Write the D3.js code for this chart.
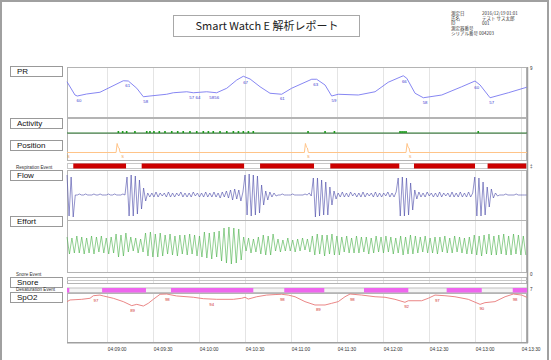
<!DOCTYPE html>
<html><head><meta charset="utf-8">
<script src="https://cdn.jsdelivr.net/npm/d3@7"></script>
<style>body{margin:0;background:#fff}svg{display:block}text{font-family:"Liberation Sans",Arial,sans-serif}</style>
</head><body>
<svg id="c" width="551" height="360"></svg>
<script>
// ---------------- DATA ----------------
const startTime = new Date(2016, 11, 19, 4, 8, 34);
const durationSec = 300;
const tickLabels = ["04:09:00","04:09:30","04:10:00","04:10:30","04:11:00","04:11:30","04:12:00","04:12:30","04:13:00","04:13:30"];
const titleText = "Smart Watch E 解析レポート";
const infoKeys = ["測定日","氏名","ID","測定器番号","シリアル番号"];
const infoValues = ["2016/12/19 01:01","テスト サス太郎","001","","004203"];
const panelNames = ["PR","Activity","Position","Flow","Effort","Snore","SpO2"];

// PR (bpm): [seconds from start, value]
const prSeries = [[0,65.1],[5.2,59.8],[6.7,59.4],[12.8,60.2],[21.5,60.9],[36.7,65.5],[40,65.4],[45.5,62.5],[49.8,59.1],[54.1,59.4],[65,60.1],[69.3,60.7],[78.1,61.1],[82.4,60.7],[91.1,61.1],[97.6,60.7],[104.2,62.5],[110.7,65.8],[115,67.3],[119.4,66.2],[125.9,63.1],[132.4,60.5],[140,60.1],[146.5,62.5],[159.6,66.1],[162.8,66.1],[168.3,63.8],[172.6,59.4],[176.9,60.1],[190,59.8],[200.9,61.1],[209.5,64.9],[219.3,67.5],[221.6,66.5],[227,60.5],[232.4,58.7],[244.4,59.8],[257.4,63.1],[266.1,65.4],[269.4,63.8],[275.9,58.7],[287.8,60.7],[299.8,62.9]];
const prMarkTimes = [7.8,39.6,51.3,81.3,85.4,94.4,97.6,116.5,140.4,162.2,174.1,220,233.5,267.2,277];
const prMarkTexts = ["60","61","58","57","64","58","56","67","61","63","59","66","58","60","57"];

// Activity marks: seconds, magnitude
const activityTimes = [33.5,36.3,38.9,44.3,52,54.1,56.7,60.2,63.9,68.3,72.2,75.8,80.2,84.6,88.9,92.2,95.4,99.8,104.2,108.5,111.8,115,118.3,121.5,157.2,168.3,174.4,217.2,218.5,219.8,221.1,268.2];
const activityValues = [1,1,1,1,1,1,1,1,1,1,1,1,1,1,1,1,1,1,1,1,1,1,1,1,1,1,1,1,1,1,1,1];

// Position: [seconds, value]
const positionSeries = [[0,0],[32.0,0],[32.7,6],[33.4,3.5],[34.0,3],[34.6,0],[154.8,0],[155.5,6],[156.2,3.5],[156.8,3],[157.4,0],[221.1,0],[221.8,6],[222.5,3.5],[223.1,3],[223.7,0],[300,0]];
const positionMarkTimes = [0.8,36.3,157.4,223.7];
const positionMarkTexts = ["S","S","S","S"];

// Respiration events (apnea) start/end seconds
const respEventStart = [4.1,48.7,125.9,171.7,226.3,274.3];
const respEventEnd   = [38.5,115.5,161.1,216.7,266.1,299.5];

// Flow, sampled every 1.35 s
const flowStep = 1.35;
const flowValues = [20,-21,18,-22,0,
0,1,0,0,1,0,0,0,1,0,0,1,0,0,0,1,0,0,1,0,0,0,1,0,
18,-21,20,-21,19,-19,15,-14,7,-6,2,
-2,2,-2,3,-2,2,-1,2,-2,3,-2,2,-2,2,-1,3,-2,2,-2,2,-2,3,-1,2,-2,2,-2,3,-2,2,-2,3,-2,2,-3,3,-2,
4,-3,5,-5,6,-4,5,-6,3,
20,-20,21,-21,20,-20,19,-18,10,-10,4,-5,3,-2,2,-1,
0,0,1,0,0,0,0,1,0,0,0,0,0,1,0,2,-1,
17,-22,17,-21,15,-20,13,-20,8,-10,4,-4,
2,-2,3,-2,2,-2,3,-1,2,-2,2,-2,3,-2,2,-1,2,-2,3,-2,2,-2,2,-1,3,-2,2,-2,3,
17,-21,18,-21,17,-20,12,-15,5,-4,
3,-2,2,-2,3,-1,2,-2,2,-2,3,-2,2,-1,2,-2,3,-2,2,-2,3,-2,2,-2,3,-2,2,
18,-21,17,-21,13,-20,8,-12,6,-3,2,-1,
0,0,0,1,0,0,0,0,1,0,0,0,0,0];

// Effort, sampled every 1.6 s
const effortStep = 1.6;
const effortValues = [8,-9,7,-8,9,-8,8,-9,7,-8,9,-9,8,-7,9,-8,7,-9,8,-8,
11,-12,10,-11,12,
-7,8,-6,7,-8,6,-7,
12,-11,13,-12,11,-12,12,-11,
10,-9,11,-10,9,-11,10,-9,10,-10,11,-9,10,-11,9,
-12,13,-13,12,-14,13,-12,14,
-16,17,-18,18,-19,17,-18,16,-15,
8,-6,7,-8,6,-7,8,
-9,10,-10,9,-10,11,
-6,6,-7,5,-6,7,-6,5,-7,6,-6,7,-5,6,-7,
9,-10,11,-9,10,-11,10,-9,11,-10,9,-10,
8,-7,9,-8,7,-8,9,-8,8,-7,8,-9,7,-8,9,-7,8,-8,9,-7,8,-9,7,-8,
9,-10,8,-9,10,-9,9,-8,
8,-7,9,-8,7,-8,8,-9,8,-7,9,-8,7,-8,9,-7,8,-8,7,-9,8,
-9,10,-10,9,-11,10,-9,11,-10,9,-10,10,-9,11,-10,9,-10,11,-9,10,-10,9,-10];

// Desaturation events
const desatStart = [0,22.9,67.8,141.7,193.7,247.6,290.7];
const desatEnd   = [1.5,51.5,121.5,167.8,222.6,270.5,300];

// SpO2 (%)
const spo2Series = [[0,92.3],[2,93.6],[9.6,94.1],[15,94.9],[17.2,96.9],[21.5,97.4],[23.7,96.7],[30.2,94.9],[36.7,92.3],[42.2,89.2],[45.5,90.2],[49.8,88.9],[53,91],[56.3,94.1],[60.7,98],[65,98.2],[71.5,96.7],[82.4,95.7],[88.9,94.6],[97.6,94.1],[108.5,94.1],[113.9,94.9],[116.1,95.7],[118.2,94.3],[123.7,96.1],[130.2,97.4],[135.7,97.8],[140,98],[144.3,97.4],[148.7,96.1],[155.2,92.3],[161.7,89.7],[168.3,89.7],[172.6,91],[176.9,92.3],[181.3,96.1],[184.6,98.2],[192.2,97.4],[200.9,96.1],[207.4,95.7],[213.9,94.1],[220.4,91.8],[222.6,93],[231.3,93],[235.6,94.9],[240,97.4],[246.5,96.9],[253,96.1],[261.7,94.1],[269.4,90.2],[272.6,91.5],[279.1,92.3],[285.7,96.1],[291.1,98.2],[296.6,97.4],[299.8,95.7]];
const spo2MarkTimes = [18.9,42.8,65.4,94.4,140.4,163.9,186.1,221.5,241.5,270.5,292.2];
const spo2MarkTexts = ["97","89","98","94","98","89","98","92","97","90","98"];

// ---------------- DRAW ----------------
const svg = d3.select("#c");
const T = s => new Date(startTime.getTime() + s * 1000);
const x = d3.scaleTime().domain([T(0), T(durationSec)]).range([67, 527]);
const parseT = d3.timeParse("%H:%M:%S");
const tickDates = tickLabels.map(s => { const p = parseT(s); return new Date(2016, 11, 19, p.getHours(), p.getMinutes(), p.getSeconds()); });

// page frame
svg.append("rect").attr("x",1).attr("y",1).attr("width",547).attr("height",400)
  .attr("fill","none").attr("stroke","#a0a0a0").attr("stroke-width",2);

// title
svg.append("rect").attr("x",173.5).attr("y",15.5).attr("width",186).attr("height",21)
  .attr("fill","#fff").attr("stroke","#a8a8a8");
svg.append("text").attr("x",267).attr("y",29.5).attr("text-anchor","middle")
  .attr("font-size",11).style("font-family","'Noto Sans CJK JP','Liberation Sans',sans-serif").attr("fill","#222").text(titleText);

// info
const infoFont = "'Noto Sans CJK JP',sans-serif";
infoKeys.forEach((k,i)=>{
  svg.append("text").attr("x",451).attr("y",14.5+i*5).attr("font-size",4.5)
    .style("font-family",infoFont).attr("fill","#333")
    .text(k + (i===4 ? " " + infoValues[i] : ""));
  if (i!==4 && infoValues[i]) svg.append("text").attr("x",482).attr("y",14.5+i*5).attr("font-size",4.5)
    .style("font-family",infoFont).attr("fill","#333").text(infoValues[i]);
});

// panels layout
const panels = {
  PR:[67,117], Activity:[118,133], Position:[133,160], Flow:[170,220], Effort:[220,272], Snore:[277,283], SpO2:[293,342]
};
const labelBoxY = {PR:66, Activity:118, Position:140, Flow:170, Effort:216, Snore:277, SpO2:292};

// gridlines
const gridG = svg.append("g");
Object.values(panels).forEach(([y0,y1])=>{
  gridG.selectAll(null).data(tickDates).join("line")
    .attr("x1",d=>Math.round(x(d))+0.5).attr("x2",d=>Math.round(x(d))+0.5)
    .attr("y1",y0).attr("y2",y1).attr("stroke","#e4e4e4");
});
// panel borders
Object.entries(panels).forEach(([n,[y0,y1]])=>{
  svg.append("rect").attr("x",67.5).attr("y",y0+0.5).attr("width",459).attr("height",y1-y0)
    .attr("fill","none").attr("stroke","#b4b4b4");
});
// shadow right/bottom of plot
svg.append("line").attr("x1",527.5).attr("x2",527.5).attr("y1",67).attr("y2",343).attr("stroke","#a0a0a0").attr("stroke-width",1.5);
svg.append("line").attr("x1",67).attr("x2",528).attr("y1",342.8).attr("y2",342.8).attr("stroke","#a0a0a0").attr("stroke-width",1.5);

// label boxes
panelNames.forEach(n=>{
  const y0 = labelBoxY[n];
  svg.append("rect").attr("x",10.5).attr("y",y0+0.5).attr("width",52).attr("height",10)
    .attr("fill","#fff").attr("stroke","#999");
  svg.append("text").attr("x",17).attr("y",y0+8.3).attr("font-size",8).attr("fill","#111").text(n);
});
// small event labels
[["Respiration Event",168.5],["Snore Event",276],["Desaturation Event",291]].forEach(([t,y])=>{
  svg.append("text").attr("x",16).attr("y",y).attr("font-size",4.6).attr("fill","#333").text(t);
});
// right side tiny markers
[["9",70],["‡",168],["0",275.5],["7",291]].forEach(([t,y])=>{
  svg.append("text").attr("x",530).attr("y",y).attr("font-size",4.5).attr("fill","#333").text(t);
});

// PR
const yPR = d3.scaleLinear().domain([51,71]).range([117,67]);
svg.append("path").datum(prSeries).attr("fill","none").attr("stroke","#7878f0").attr("stroke-width",0.9)
  .attr("d", d3.line().x(d=>x(T(d[0]))).y(d=>yPR(d[1])));
const interp = (series,t)=>{ const i = d3.bisector(d=>d[0]).right(series,t); const a=series[Math.max(0,i-1)], b=series[Math.min(series.length-1,i)]; if(a===b) return a[1]; return a[1]+(b[1]-a[1])*(t-a[0])/(b[0]-a[0]); };
svg.selectAll(null).data(prMarkTimes).join("text")
  .attr("x",d=>x(T(d))).attr("y",d=>yPR(interp(prSeries,d))+6.5).attr("text-anchor","middle")
  .attr("font-size",4.3).attr("fill","#3a3ad0").text((d,i)=>prMarkTexts[i]);

// Activity
const yAct = d3.scaleLinear().domain([0,10]).range([133,118]);
svg.append("line").attr("x1",67).attr("x2",527).attr("y1",yAct(0)).attr("y2",yAct(0)).attr("stroke","#2e7d32").attr("stroke-width",1);
svg.selectAll(null).data(activityTimes).join("rect")
  .attr("x",d=>x(T(d))-0.8).attr("width",1.6)
  .attr("y",(d,i)=>yAct(activityValues[i])-0.5).attr("height",(d,i)=>yAct(0)-yAct(activityValues[i])+0.5)
  .attr("fill","#1a9a1a");

// Position
const yPos = d3.scaleLinear().domain([-5,13]).range([160,133]);
svg.append("path").datum(positionSeries).attr("fill","none").attr("stroke","#ffc488").attr("stroke-width",1)
  .attr("d", d3.line().x(d=>x(T(d[0]))).y(d=>yPos(d[1])));
svg.selectAll(null).data(positionMarkTimes).join("text")
  .attr("x",d=>x(T(d))).attr("y",yPos(0)+5.5).attr("text-anchor","middle")
  .attr("font-size",4).attr("fill","#f0a050").text((d,i)=>positionMarkTexts[i]);

// Respiration events
const respY0 = 163.5, respH = 5;
svg.append("rect").attr("x",67.5).attr("y",respY0).attr("width",459).attr("height",respH).attr("fill","#fff").attr("stroke","#c8c8c8");
svg.selectAll(null).data(respEventStart).join("rect")
  .attr("x",d=>x(T(d))).attr("width",(d,i)=>x(T(respEventEnd[i]))-x(T(d)))
  .attr("y",respY0).attr("height",respH).attr("fill","#cc0000");

// Flow
const yFlow = d3.scaleLinear().domain([-25,25]).range([220,170]);
svg.append("path").datum(flowValues).attr("fill","none").attr("stroke","#4848a8").attr("stroke-width",0.6)
  .attr("d", d3.line().x((d,i)=>x(T(i*flowStep))).y(d=>yFlow(d)));

// Effort
const yEff = d3.scaleLinear().domain([-27,25]).range([272,220]);
svg.append("path").datum(effortValues).attr("fill","none").attr("stroke","#48b048").attr("stroke-width",0.6)
  .attr("d", d3.line().x((d,i)=>x(T(i*effortStep))).y(d=>yEff(d)));

// Snore panel inner line
svg.append("line").attr("x1",67).attr("x2",527).attr("y1",280.5).attr("y2",280.5).attr("stroke","#c8c8c8");

// Desaturation events
const desY0 = 288, desH = 4.5;
svg.append("rect").attr("x",67.5).attr("y",desY0).attr("width",459).attr("height",desH).attr("fill","#f4f4f4").attr("stroke","#c0c0c0");
svg.selectAll(null).data(desatStart).join("rect")
  .attr("x",d=>x(T(d))).attr("width",(d,i)=>x(T(desatEnd[i]))-x(T(d)))
  .attr("y",desY0).attr("height",desH).attr("fill","#ee66ee");

// SpO2
const ySp = d3.scaleLinear().domain([61,99]).range([342,293]);
svg.append("path").datum(spo2Series).attr("fill","none").attr("stroke","#e87878").attr("stroke-width",0.9)
  .attr("d", d3.line().x(d=>x(T(d[0]))).y(d=>ySp(d[1])));
svg.selectAll(null).data(spo2MarkTimes).join("text")
  .attr("x",d=>x(T(d))).attr("y",d=>ySp(interp(spo2Series,d))+6.5).attr("text-anchor","middle")
  .attr("font-size",4.3).attr("fill","#d03030").text((d,i)=>spo2MarkTexts[i]);

// axis
const axis = d3.axisBottom(x).tickValues(tickDates).tickFormat(d3.timeFormat("%H:%M:%S")).tickSize(0);
const ax = svg.append("g").attr("transform","translate(0,343)").call(axis);
ax.select(".domain").remove();
ax.selectAll("text").attr("text-anchor","start").attr("dx",0.5).attr("y",5).attr("font-size",4.8).attr("fill","#333").attr("font-family","Liberation Sans, Arial");
</script>
</body></html>
